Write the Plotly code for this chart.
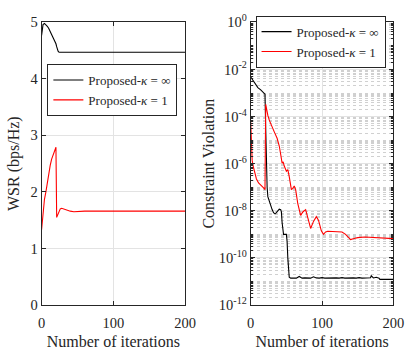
import plotly.graph_objects as go

# ---------------- data ----------------
# Left panel: WSR (bps/Hz) vs iterations
wsr_inf_x = [0, 1, 2, 4, 6, 8, 10, 12, 14, 16, 18, 20, 21, 22, 23, 24, 25, 50, 100, 150, 200]
wsr_inf_y = [4.77, 4.90, 4.96, 4.98, 4.96, 4.93, 4.89, 4.84, 4.79, 4.73, 4.67, 4.62, 4.57, 4.52, 4.49, 4.475, 4.47, 4.47, 4.47, 4.47, 4.47]

wsr_1_x = [0, 1, 2, 3, 4, 6, 8, 10, 12, 14, 16, 18, 20, 21, 22, 24, 26, 28, 30, 35, 40, 45, 50, 60, 100, 150, 200]
wsr_1_y = [1.33, 1.50, 1.65, 1.78, 1.87, 2.00, 2.17, 2.33, 2.47, 2.58, 2.66, 2.73, 2.79, 1.55, 1.58, 1.66, 1.70, 1.71, 1.70, 1.675, 1.66, 1.65, 1.655, 1.66, 1.66, 1.66, 1.66]

# Right panel: constraint violation (log10 exponents) vs iterations
cv_inf_x = [0, 3, 6, 10, 14, 18, 20, 21, 22, 23, 24, 26, 28, 30, 32, 34, 36, 38, 40, 42, 43, 44, 45, 46, 50,
            51, 52, 53, 54, 56, 60, 64, 68, 72, 76, 80, 84, 88, 92, 96, 100, 104, 108, 112, 116, 120,
            124, 128, 132, 136, 140, 144, 148, 152, 156, 160, 164, 168, 169, 172, 176, 180, 181, 184, 190, 196, 200]
cv_inf_e = [-2.32, -2.45, -2.60, -2.77, -2.87, -2.97, -3.05, -4.5, -6.0, -7.0, -7.4, -7.6, -7.8, -7.95, -8.08, -8.13, -8.08, -7.98, -7.93, -7.95, -8.05, -8.5, -8.95, -9.0, -9.0,
            -9.3, -10.0, -10.6, -10.82, -10.86, -10.85, -10.86, -10.79, -10.86, -10.85, -10.84, -10.86, -10.80, -10.85, -10.86, -10.84, -10.86, -10.85, -10.84, -10.86, -10.85,
            -10.86, -10.84, -10.86, -10.85, -10.86, -10.85, -10.86, -10.84, -10.86, -10.85, -10.86, -10.84, -10.76, -10.85, -10.82, -10.86, -10.91, -10.91, -10.91, -10.91, -10.91]

cv_1_x = [0, 1, 2, 3, 5, 8, 11, 14, 17, 19, 20, 21, 22, 24, 26, 28, 30, 33, 37, 40, 42, 44, 45.5, 47, 50, 52, 54, 57, 59, 61, 63, 66, 70, 73, 77,
          80, 84, 88, 92, 95, 99, 102, 105, 108, 120, 128, 133, 137, 140, 145, 150, 160, 170, 180, 190, 200]
cv_1_e = [-4.24, -5.4, -5.85, -6.05, -6.35, -6.65, -6.82, -6.93, -7.0, -7.06, -7.1, -3.48, -3.7, -3.95, -4.15, -4.32, -4.45, -4.65, -4.92, -5.25, -5.6, -5.98, -5.92, -6.1, -6.32, -6.25, -6.55, -7.1, -7.05, -6.95, -7.1, -7.7, -8.2, -8.05, -7.95,
          -8.25, -8.75, -8.45, -8.25, -8.4, -8.85, -9.0, -8.9, -8.87, -8.87, -8.9, -9.0, -9.15, -9.22, -9.18, -9.14, -9.11, -9.12, -9.15, -9.17, -9.18]

x_ticks = [0, 100, 200]
wsr_ticks = [0, 1, 2, 3, 4, 5]
cv_tick_exps = [0, -2, -4, -6, -8, -10, -12]

label_inf = "Proposed-<i>κ</i> = ∞"
label_1 = "Proposed-<i>κ</i> = 1"

# ---------------- figure ----------------
FONT = "Liberation Serif"
TXT = "#262626"
W, H = 414, 350


def px_x(p):
    return p / W


def px_y(p):
    return 1 - p / H


fig = go.Figure()

fig.add_trace(go.Scatter(x=wsr_inf_x, y=wsr_inf_y, mode="lines", line=dict(color="black", width=1.1),
                         name=label_inf, xaxis="x", yaxis="y", legend="legend"))
fig.add_trace(go.Scatter(x=wsr_1_x, y=wsr_1_y, mode="lines", line=dict(color="red", width=1.1),
                         name=label_1, xaxis="x", yaxis="y", legend="legend"))

fig.add_trace(go.Scatter(x=cv_inf_x, y=[10 ** e for e in cv_inf_e], mode="lines", line=dict(color="black", width=1.1),
                         name=label_inf, xaxis="x2", yaxis="y2", legend="legend2"))
fig.add_trace(go.Scatter(x=cv_1_x, y=[10 ** e for e in cv_1_e], mode="lines", line=dict(color="red", width=1.1),
                         name=label_1, xaxis="x2", yaxis="y2", legend="legend2"))

axis_common = dict(
    showline=True, linecolor=TXT, linewidth=1, mirror="ticks",
    ticks="inside", ticklen=4, tickcolor=TXT,
    showgrid=True, gridcolor="#e3e3e3", gridwidth=1,
    zeroline=False, tickfont=dict(family=FONT, size=14.5, color=TXT),
)
title_font = dict(family=FONT, size=16, color=TXT)
legend_font = dict(family=FONT, size=13, color=TXT)

fig.update_layout(
    width=W, height=H,
    margin=dict(l=0, r=0, t=0, b=0),
    paper_bgcolor="white", plot_bgcolor="white",
    font=dict(family=FONT, size=14, color=TXT),
    xaxis=dict(domain=[px_x(39), px_x(188)], range=[0, 200], tickvals=x_ticks, anchor="y",
               ticklabelstandoff=5,
               title=dict(text="Number of iterations", font=title_font, standoff=5), **axis_common),
    yaxis=dict(domain=[px_y(311), px_y(13)], range=[0, 5], tickvals=wsr_ticks, anchor="x",
               title=dict(text="WSR (bps/Hz)", font=title_font, standoff=6), **axis_common),
    xaxis2=dict(domain=[px_x(256), px_x(404)], range=[0, 200], tickvals=x_ticks, anchor="y2",
                ticklabelstandoff=5,
                title=dict(text="Number of iterations", font=title_font, standoff=5), **axis_common),
    yaxis2=dict(domain=[px_y(311), px_y(13)], type="log", range=[-12, 0],
                tickvals=[10 ** e for e in cv_tick_exps],
                ticktext=["10<sup>%d</sup>" % e for e in cv_tick_exps],
                minor=dict(dtick="D1", ticks="inside", ticklen=2, tickcolor=TXT,
                           showgrid=True, gridcolor="#d0d0d0", griddash="dot", gridwidth=1),
                anchor="x2",
                title=dict(text="Constraint Violation", font=title_font, standoff=0), **axis_common),
    legend=dict(x=px_x(45), y=px_y(57), xanchor="left", yanchor="top",
                bgcolor="white", bordercolor=TXT, borderwidth=1,
                font=legend_font, itemwidth=30, tracegroupgap=0),
    legend2=dict(x=px_x(261), y=px_y(6), xanchor="left", yanchor="top",
                 bgcolor="white", bordercolor=TXT, borderwidth=1,
                 font=legend_font, itemwidth=30, tracegroupgap=0),
)

fig.write_html("out.html")
